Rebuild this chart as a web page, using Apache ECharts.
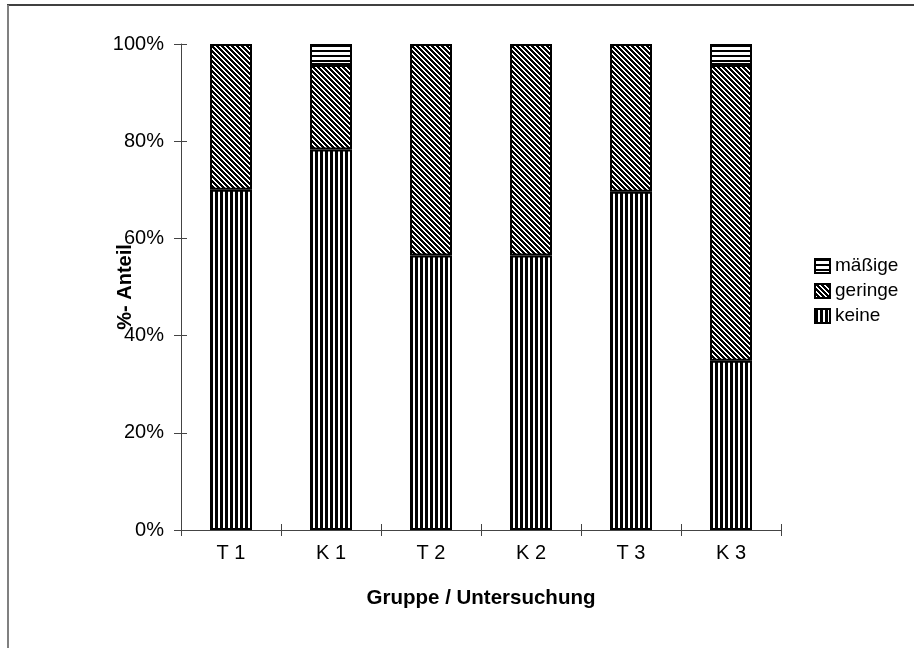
<!DOCTYPE html>
<html>
<head>
<meta charset="utf-8">
<script src="https://cdn.jsdelivr.net/npm/echarts@6/dist/echarts.min.js"></script>
<style>html,body{margin:0;padding:0;background:#fff}#c{width:914px;height:648px}</style>
</head>
<body>
<div id="c"></div>
<script>
const categories = ['T 1', 'K 1', 'T 2', 'K 2', 'T 3', 'K 3'];
const keine = [70.0, 78.3, 56.5, 56.5, 69.6, 34.8];
const geringe = [30.0, 17.4, 43.5, 43.5, 30.4, 60.9];
const maessige = [null, 4.3, null, null, null, 4.3];
const yTicks = [0, 20, 40, 60, 80, 100];

function makePattern(size, isBlack) {
  const c = document.createElement('canvas');
  c.width = size; c.height = size;
  const ctx = c.getContext('2d');
  const img = ctx.createImageData(size, size);
  for (let y = 0; y < size; y++) {
    for (let x = 0; x < size; x++) {
      const v = isBlack(x, y) ? 0 : 255;
      const i = (y * size + x) * 4;
      img.data[i] = v; img.data[i + 1] = v; img.data[i + 2] = v; img.data[i + 3] = 255;
    }
  }
  ctx.putImageData(img, 0, 0);
  return { image: c, repeat: 'repeat' };
}
const patKeine = makePattern(5, (x, y) => x < 3);
const patGeringe = makePattern(5, (x, y) => ((x - y) % 5 + 5) % 5 < 3);
const patMaessige = makePattern(5, (x, y) => y < 2);

const chart = echarts.init(document.getElementById('c'));
const font = 'Arial, "Liberation Sans", sans-serif';
const axisColor = '#444';
function mkSeries(name, data, pat) {
  return {
    name, type: 'bar', stack: 'a', data, barWidth: 42,
    itemStyle: { color: pat, borderColor: '#000', borderWidth: 2 },
    emphasis: { disabled: true }
  };
}
chart.setOption({
  animation: false,
  backgroundColor: '#fff',
  grid: { left: 181, right: 133, top: 44, bottom: 118 },
  graphic: [
    { type: 'line', shape: { x1: 7, y1: 5, x2: 914, y2: 5 }, style: { stroke: '#000', lineWidth: 1.5 } },
    { type: 'line', shape: { x1: 8, y1: 5, x2: 8, y2: 648 }, style: { stroke: '#808080', lineWidth: 2 } }
  ],
  legend: {
    orient: 'vertical', left: 809, top: 251,
    itemWidth: 15, itemHeight: 14, itemGap: 5,
    data: ['mäßige', 'geringe', 'keine'],
    textStyle: { fontFamily: font, fontSize: 19, color: '#000', lineHeight: 20 },
    icon: 'rect'
  },
  xAxis: [{
    type: 'category', data: categories,
    name: 'Gruppe / Untersuchung', nameLocation: 'middle', nameGap: 58, nameMoveOverlap: false,
    nameTextStyle: { fontFamily: font, fontSize: 20.5, fontWeight: 'bold', color: '#000' },
    axisLine: { lineStyle: { color: axisColor, width: 1 } },
    axisTick: { show: true, alignWithLabel: false, length: 6, lineStyle: { color: axisColor } },
    axisLabel: { fontFamily: font, fontSize: 20, color: '#000', margin: 13 }
  }, {
    type: 'category', data: categories, position: 'bottom',
    axisLine: { show: false },
    axisTick: { show: true, inside: true, length: 6, lineStyle: { color: axisColor } },
    axisLabel: { show: false }
  }],
  yAxis: [{
    type: 'value', min: 0, max: 100, interval: 20,
    name: '%- Anteil', nameLocation: 'middle', nameGap: 46, nameRotate: 90, nameMoveOverlap: false,
    nameTextStyle: { fontFamily: font, fontSize: 20, fontWeight: 'bold', color: '#000' },
    axisLine: { show: true, lineStyle: { color: axisColor, width: 1 } },
    axisTick: { show: true, length: 7, lineStyle: { color: axisColor } },
    axisLabel: { fontFamily: font, fontSize: 20, color: '#000', margin: 17,
      formatter: v => (yTicks.indexOf(v) >= 0 ? v + '%' : '') },
    splitLine: { show: false }
  }, {
    type: 'value', min: 0, max: 100, interval: 20, position: 'left',
    axisLine: { show: false },
    axisTick: { show: true, inside: true, length: 6, lineStyle: { color: axisColor } },
    axisLabel: { show: false }, splitLine: { show: false }
  }],
  series: [
    mkSeries('keine', keine, patKeine),
    mkSeries('geringe', geringe, patGeringe),
    mkSeries('mäßige', maessige, patMaessige)
  ]
});
</script>
</body>
</html>
